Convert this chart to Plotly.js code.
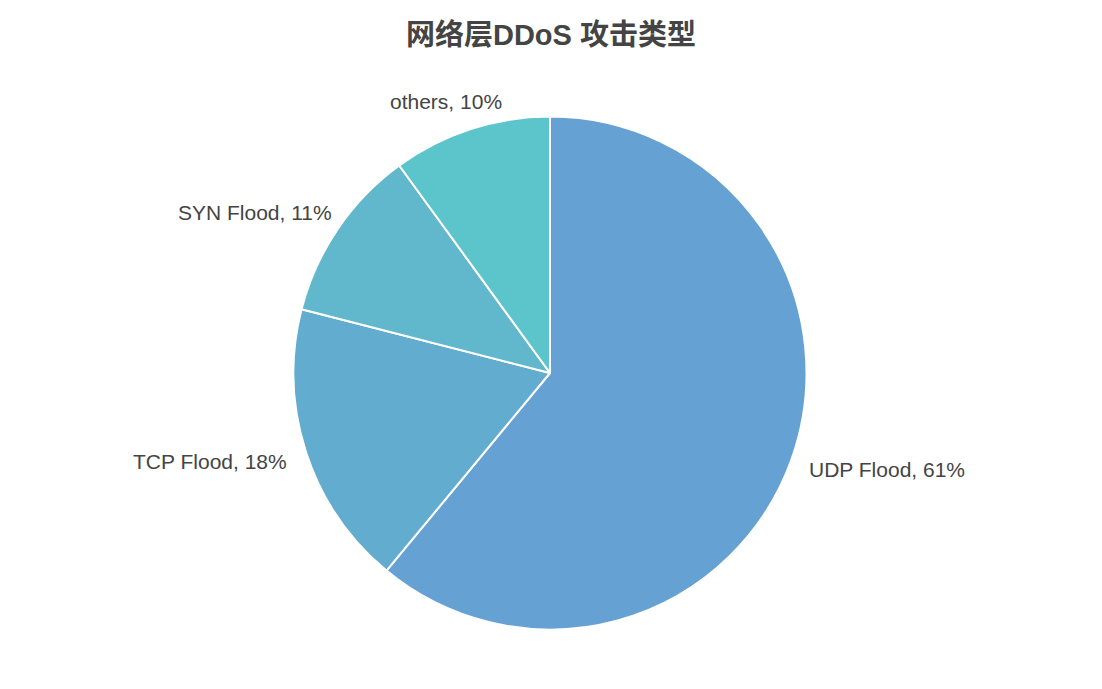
<!DOCTYPE html>
<html>
<head>
<meta charset="utf-8">
<script src="https://cdn.plot.ly/plotly-3.0.1.min.js"></script>
<style>html,body{margin:0;padding:0;background:#fff;}#chart{width:1102px;height:689px;}</style>
</head>
<body>
<div id="chart"></div>
<script>
const categories = ["UDP Flood", "TCP Flood", "SYN Flood", "others"];
const values = [61, 18, 11, 10];
const colors = ["#66a1d3", "#62acd0", "#61b8cd", "#5cc4cb"];
const titleText = "网络层DDoS 攻击类型";

// layout constants (pixels)
const W = 1102, H = 689;
const CX = 550, CY = 373, RAD = 256.5;
const LABEL_GAP = 29;
const LABEL_FONT = {family: "Liberation Sans, Arial, sans-serif", size: 21, color: "#444444"};

const labelTexts = categories.map((c, i) => c + ", " + values[i] + "%");

// measure text widths for label placement
const ctx = document.createElement("canvas").getContext("2d");
ctx.font = LABEL_FONT.size + "px 'Liberation Sans', Arial, sans-serif";

const total = values.reduce((a, b) => a + b, 0);
let cum = 0;
const annotations = values.map((v, i) => {
  const mid = (cum + v / 2) / total;
  cum += v;
  const th = mid * 2 * Math.PI; // clockwise from top
  const s = Math.sin(th), c = Math.cos(th);
  const R = RAD + LABEL_GAP;
  const w = ctx.measureText(labelTexts[i]).width;
  const px = CX + R * s + 0.93 * (w / 2) * s;
  const py = CY - R * c;
  return {
    x: px / W, y: (H - py) / H, xref: "paper", yref: "paper",
    xanchor: "center", yanchor: "middle",
    text: labelTexts[i], showarrow: false, font: LABEL_FONT
  };
});

const data = [{
  type: "pie",
  labels: categories,
  values: values,
  sort: false,
  direction: "clockwise",
  rotation: 0,
  domain: {
    x: [(CX - RAD) / W, (CX + RAD) / W],
    y: [(H - CY - RAD) / H, (H - CY + RAD) / H]
  },
  marker: {colors: colors, line: {color: "#ffffff", width: 2}},
  textinfo: "none",
  hoverinfo: "label+percent",
  showlegend: false
}];

const layout = {
  width: W,
  height: H,
  margin: {l: 0, r: 0, t: 0, b: 0},
  paper_bgcolor: "#ffffff",
  title: {
    text: "<b>" + titleText + "</b>",
    x: 0.5, xanchor: "center",
    y: 0.95, yanchor: "middle",
    font: {family: "Liberation Sans, Noto Sans CJK SC, sans-serif", size: 29, color: "#444444"}
  },
  annotations: annotations,
  showlegend: false
};

Plotly.newPlot("chart", data, layout, {displayModeBar: false, staticPlot: true});
</script>
</body>
</html>
